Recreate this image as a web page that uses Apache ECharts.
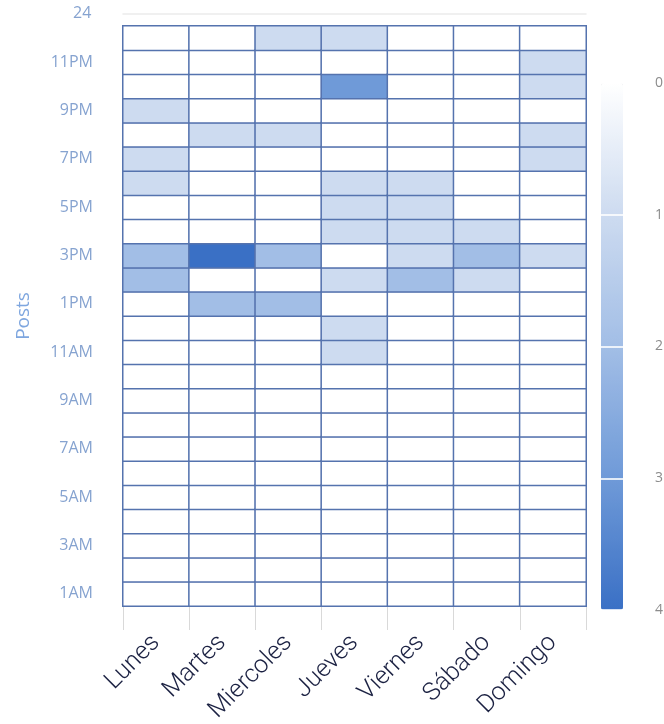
<!DOCTYPE html>
<html>
<head>
<meta charset="utf-8">
<script src="https://cdn.jsdelivr.net/npm/echarts@6/dist/echarts.min.js"></script>
<style>
html,body{margin:0;padding:0;background:#fff;}
#chart{width:664px;height:724px;}
</style>
</head>
<body>
<div id="chart"></div>
<script>
// Categories
var days = ['Lunes', 'Martes', 'Miercoles', 'Jueves', 'Viernes', 'Sábado', 'Domingo'];
var hours = ['1AM','2AM','3AM','4AM','5AM','6AM','7AM','8AM','9AM','10AM','11AM','12PM',
             '1PM','2PM','3PM','4PM','5PM','6PM','7PM','8PM','9PM','10PM','11PM','24'];
var topHourLabel = '24';
var scaleTicks = [0, 1, 2, 3, 4];

// Posts per hour (index 0 = 1AM ... index 23 = 24)
var lunes     = [0,0,0,0,0,0,0,0,0,0,0,0,0,2,2,0,0,1,1,0,1,0,0,0];
var martes    = [0,0,0,0,0,0,0,0,0,0,0,0,2,0,4,0,0,0,0,1,0,0,0,0];
var miercoles = [0,0,0,0,0,0,0,0,0,0,0,0,2,0,2,0,0,0,0,1,0,0,0,1];
var jueves    = [0,0,0,0,0,0,0,0,0,0,1,1,0,1,0,1,1,1,0,0,0,3,0,1];
var viernes   = [0,0,0,0,0,0,0,0,0,0,0,0,0,2,1,1,1,1,0,0,0,0,0,0];
var sabado    = [0,0,0,0,0,0,0,0,0,0,0,0,0,1,2,1,0,0,0,0,0,0,0,0];
var domingo   = [0,0,0,0,0,0,0,0,0,0,0,0,0,0,1,0,0,0,1,1,0,1,1,0];

var byDay = [lunes, martes, miercoles, jueves, viernes, sabado, domingo];
var data = [];
byDay.forEach(function (arr, d) {
  arr.forEach(function (v, h) { data.push([d, h, v]); });
});

var chart = echarts.init(document.getElementById('chart'), null, {renderer: 'canvas'});
chart.setOption({
  animation: false,
  backgroundColor: '#ffffff',
  title: {
    text: topHourLabel,
    left: 73, top: 5, padding: 0,
    textStyle: {color: '#86a3d0', fontSize: 16, fontWeight: 'normal', fontFamily: 'Open Sans'}
  },
  grid: [
    {left: 123, right: 78, top: 26, bottom: 118, containLabel: false, outerBoundsMode: 'none'},
    {left: 601, top: 83, width: 22, height: 527, containLabel: false, outerBoundsMode: 'none'}
  ],
  xAxis: [
    {
      type: 'category', data: days, gridIndex: 0,
      axisLine: {show: true, lineStyle: {color: '#5a76ae', width: 1.5}},
      axisTick: {show: true, length: 24, lineStyle: {color: '#d9d9d9'}},
      axisLabel: {
        rotate: 45, margin: 33, fontSize: 25, fontWeight: 300,
        fontFamily: 'Roboto', color: '#1b2142', interval: 0
      },
      splitLine: {show: false}
    },
    {
      type: 'category', data: days, gridIndex: 0, position: 'top', offset: 12,
      axisLine: {show: true, lineStyle: {color: '#ececec', width: 1.5}},
      axisTick: {show: false}, axisLabel: {show: false}
    },
    {type: 'value', gridIndex: 1, show: false, min: 0, max: 1}
  ],
  yAxis: [
    {
      type: 'category', data: hours, gridIndex: 0,
      axisLine: {show: false}, axisTick: {show: false},
      axisLabel: {interval: 1, margin: 30, fontSize: 16, color: '#86a3d0', fontFamily: 'Open Sans'},
      name: 'Posts', nameLocation: 'middle', nameRotate: 90, nameGap: 90,
      nameTextStyle: {color: '#7ea6df', fontSize: 19, fontFamily: 'Open Sans'},
      splitLine: {show: false}
    },
    {
      type: 'value', gridIndex: 1, min: scaleTicks[0], max: scaleTicks[scaleTicks.length - 1],
      interval: 1, inverse: true, position: 'right', z: 10,
      axisLine: {show: false}, axisTick: {show: false},
      axisLabel: {margin: 32, fontSize: 14, color: '#8c8c8c', fontFamily: 'Open Sans'},
      splitLine: {show: true, lineStyle: {color: 'rgba(255,255,255,0.8)', width: 2}}
    }
  ],
  visualMap: {
    type: 'continuous', min: 0, max: 4, inverse: true, calculable: false,
    seriesIndex: 0, left: 586, top: 68, itemWidth: 22, itemHeight: 527,
    z: 2, showLabel: false,
    inRange: {color: ['#ffffff', '#cddbf0', '#a2bee6', '#6f9ad8', '#3a70c5']}
  },
  series: [{
    type: 'heatmap', data: data, xAxisIndex: 0, yAxisIndex: 0,
    itemStyle: {borderColor: '#5573ae', borderWidth: 1.5},
    emphasis: {disabled: true}
  }]
});
</script>
</body>
</html>
